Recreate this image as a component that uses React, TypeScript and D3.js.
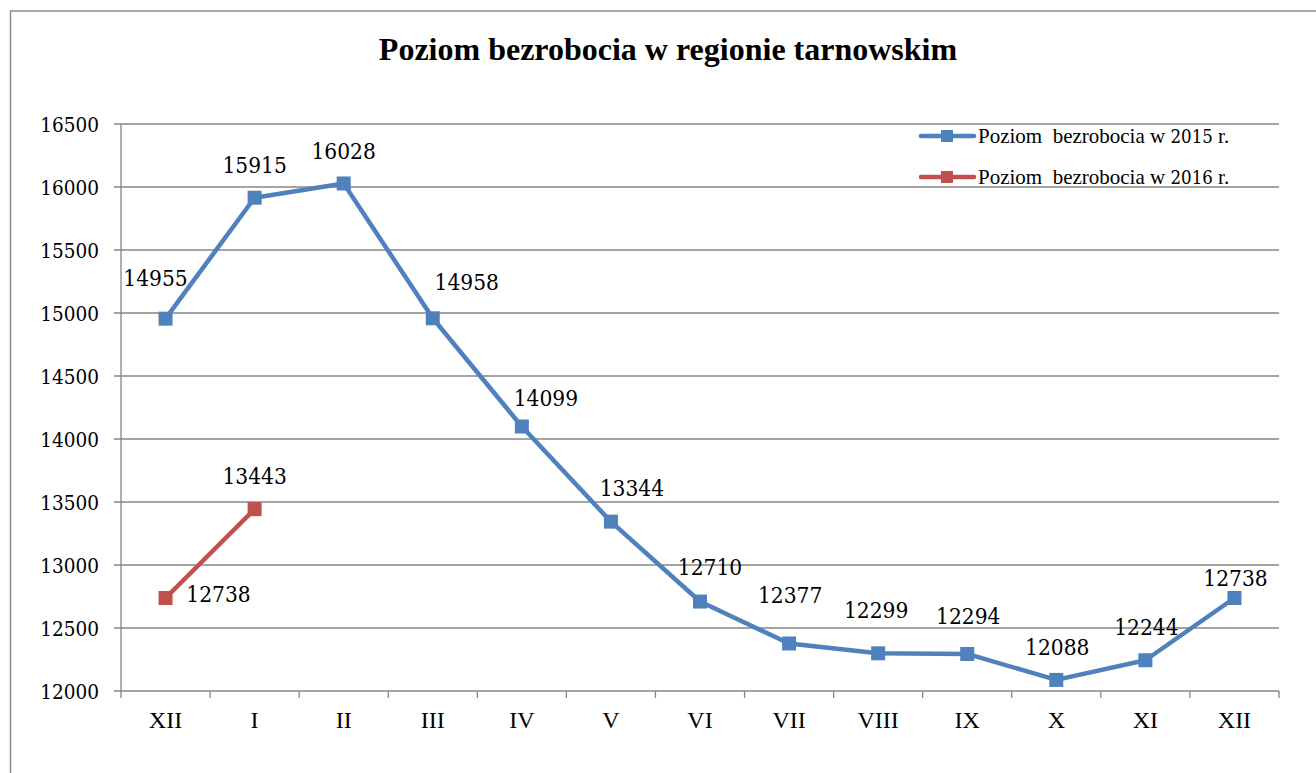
import React, { useEffect, useRef } from 'react';
import * as d3 from 'd3';

// months on the x axis (Dec 2014 .. Dec 2015)
const months = ['XII', 'I', 'II', 'III', 'IV', 'V', 'VI', 'VII', 'VIII', 'IX', 'X', 'XI', 'XII'];

const values2015 = [14955, 15915, 16028, 14958, 14099, 13344, 12710, 12377, 12299, 12294, 12088, 12244, 12738];
const values2016 = [12738, 13443];

const yTicks = [12000, 12500, 13000, 13500, 14000, 14500, 15000, 15500, 16000, 16500];

const seriesYears = ['2015', '2016'];
const seriesColors = ['#4F81BD', '#C0504D'];

// label offsets (px) relative to each point, copied from the excel placement
const labelShift2015 = [[-10, -33], [0, -25], [0, -24], [34, -28], [24, -21], [21, -26], [10, -27], [1, -40], [-2, -35], [1, -30], [1, -25], [1, -25], [1, -12]];
const labelShift2016 = [[53, 4], [0, -25]];

const W = 1316;
const H = 773;
const FONT = "'Times New Roman', Times, 'Liberation Serif', serif";
// liberation serif has no usable digits here -> condensed dejavu serif for numbers
const NUM_FONT = "'DejaVu Serif Condensed', 'DejaVu Serif', serif";

export default function App() {
    const svgRef = useRef<SVGSVGElement>(null);

    useEffect(() => {
        if (!svgRef.current) return;
        const svg = d3.select(svgRef.current);
        svg.selectAll('*').remove();

        const plot = { left: 121, right: 1279, top: 124, bottom: 691 };
        const gridColor = '#868686';

        // outer frame (runs off the page on the right / bottom)
        svg.append('rect')
            .attr('x', 10.5).attr('y', 11)
            .attr('width', W).attr('height', H)
            .attr('fill', 'none')
            .attr('stroke', '#8c8c8c')
            .attr('stroke-width', 1.5);

        svg.append('text')
            .attr('x', 668).attr('y', 60)
            .attr('text-anchor', 'middle')
            .style('font-family', FONT)
            .style('font-size', '32px')
            .style('font-weight', 'bold')
            .text('Poziom bezrobocia w regionie tarnowskim');

        const x = d3.scaleBand<number>()
            .domain(months.map((_, i) => i))
            .range([plot.left, plot.right])
            .padding(0);
        const y = d3.scaleLinear().domain([12000, 16500]).range([plot.bottom, plot.top]);
        const cx = (i: number) => (x(i) as number) + x.bandwidth() / 2;

        // gridlines + y ticks
        const g = svg.append('g');
        yTicks.forEach(t => {
            g.append('line')
                .attr('x1', plot.left - 7).attr('x2', plot.right)
                .attr('y1', y(t)).attr('y2', y(t))
                .attr('stroke', gridColor).attr('stroke-width', 1.3);
            g.append('text')
                .attr('x', 99).attr('y', y(t) + 8)
                .attr('text-anchor', 'end')
                .style('font-family', NUM_FONT)
                .style('font-size', '20.5px')
                .text(String(t));
        });

        // y axis line
        g.append('line')
            .attr('x1', plot.left).attr('x2', plot.left)
            .attr('y1', plot.top).attr('y2', plot.bottom)
            .attr('stroke', gridColor).attr('stroke-width', 1.3);

        // x ticks at band edges
        d3.range(months.length + 1).forEach(i => {
            const xx = plot.left + i * x.bandwidth();
            g.append('line')
                .attr('x1', xx).attr('x2', xx)
                .attr('y1', plot.bottom).attr('y2', plot.bottom + 7)
                .attr('stroke', gridColor).attr('stroke-width', 1.3);
        });

        months.forEach((m, i) => {
            g.append('text')
                .attr('x', cx(i)).attr('y', 728)
                .attr('text-anchor', 'middle')
                .style('font-family', FONT)
                .style('font-size', '24px')
                .text(m);
        });

        const line = d3.line<number>()
            .x((_, i) => cx(i))
            .y(d => y(d));

        const drawSeries = (vals: number[], color: string, shifts: number[][]) => {
            svg.append('path')
                .datum(vals)
                .attr('d', line)
                .attr('fill', 'none')
                .attr('stroke', color)
                .attr('stroke-width', 4.5)
                .attr('stroke-linejoin', 'round');
            svg.selectAll(null)
                .data(vals)
                .enter().append('rect')
                .attr('x', (_, i) => cx(i) - 7)
                .attr('y', d => y(d) - 7)
                .attr('width', 14).attr('height', 14)
                .attr('fill', color);
            svg.selectAll(null)
                .data(vals)
                .enter().append('text')
                .attr('x', (_, i) => cx(i) + shifts[i][0])
                .attr('y', (d, i) => y(d) + shifts[i][1])
                .attr('text-anchor', 'middle')
                .style('font-family', NUM_FONT)
                .style('font-size', '22.5px')
                .text(d => String(d));
        };

        drawSeries(values2015, seriesColors[0], labelShift2015);
        drawSeries(values2016, seriesColors[1], labelShift2016);

        // legend
        seriesYears.forEach((yr, i) => {
            const ly = 136 + i * 41;
            const lg = svg.append('g');
            lg.append('line')
                .attr('x1', 921).attr('x2', 974)
                .attr('y1', ly).attr('y2', ly)
                .attr('stroke', seriesColors[i])
                .attr('stroke-width', 4.5)
                .attr('stroke-linecap', 'round');
            lg.append('rect')
                .attr('x', 941).attr('y', ly - 6)
                .attr('width', 12).attr('height', 12)
                .attr('fill', seriesColors[i]);
            const txt = lg.append('text')
                .attr('x', 978).attr('y', ly + 7)
                .style('font-family', FONT)
                .style('font-size', '21px')
                .style('white-space', 'pre');
            txt.append('tspan').text('Poziom  bezrobocia w ');
            txt.append('tspan').style('font-family', NUM_FONT).style('font-size', '18.5px').text(yr);
            txt.append('tspan').text(' r.');
        });
    }, []);

    return (
        <svg ref={svgRef} width={W} height={H}
            style={{ position: 'absolute', left: 0, top: 0, display: 'block', background: '#fff' }} />
    );
}
